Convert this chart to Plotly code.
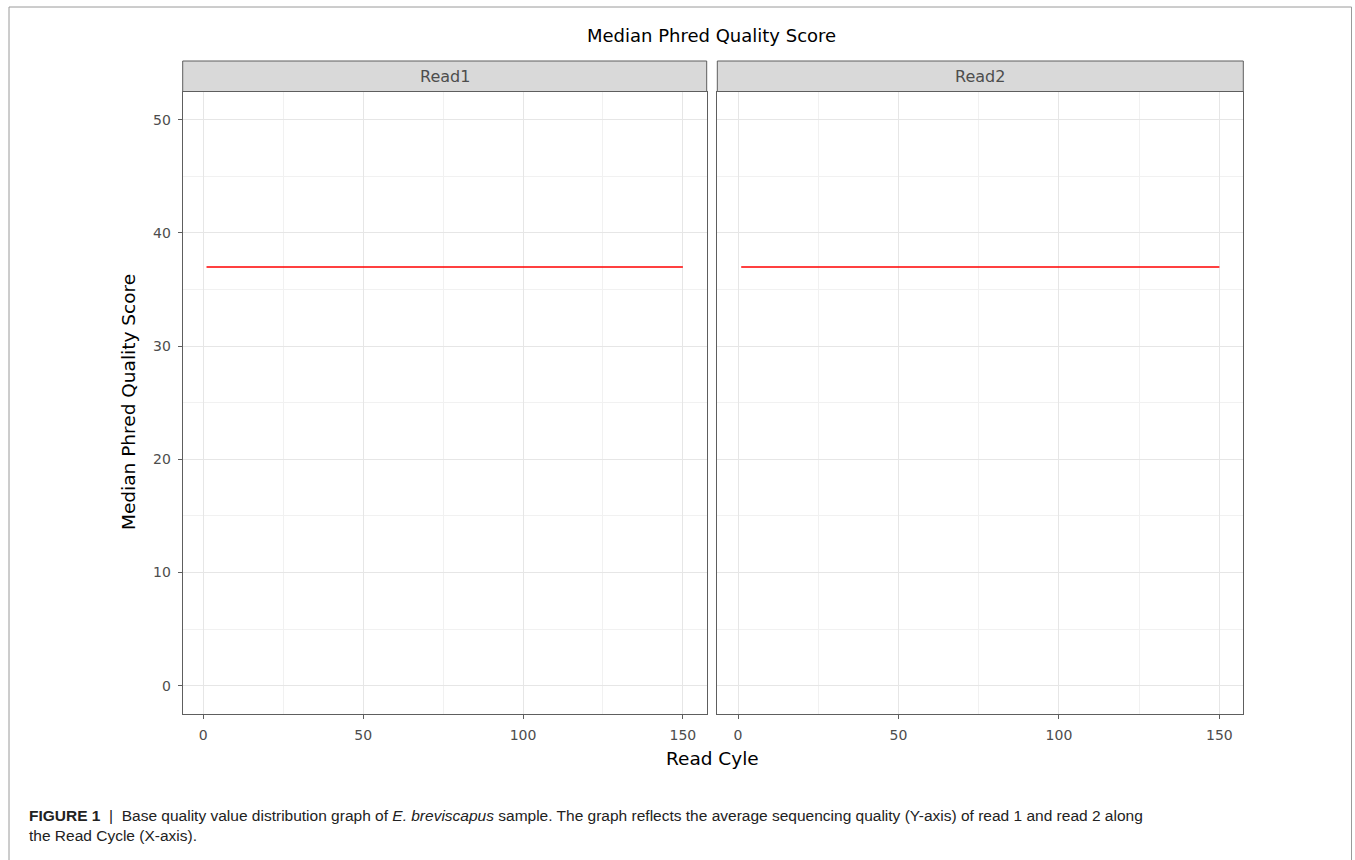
import plotly.graph_objects as go

# ---- data ----
panels = ["Read1", "Read2"]
read_cycle = [1, 150]
median_quality_read1 = [37, 37]
median_quality_read2 = [37, 37]
x_ticks = [0, 50, 100, 150]
y_ticks = [0, 10, 20, 30, 40, 50]

W, H = 1355, 860
def px(x): return x / W
def py(y): return 1 - y / H

BORDER = "#5E5E5E"
GRID = "#E6E6E6"
GRID_MINOR = "#F1F1F1"
TICKC = "#4D4D4D"
FONT = "DejaVu Sans"

panel_x = [(182.7, 706.7), (717.3, 1243.3)]
panel_top, panel_bot = 91.5, 714.0
strip_top = 61.0

fig = go.Figure()
series = [median_quality_read1, median_quality_read2]
for i, vals in enumerate(series):
    sfx = "" if i == 0 else str(i + 1)
    fig.add_trace(go.Scatter(x=read_cycle, y=vals, mode="lines",
                             line=dict(color="#FF0000", width=1.6),
                             xaxis="x" + sfx, yaxis="y" + sfx, showlegend=False))

common_x = dict(range=[-6.45, 157.45], tickvals=x_ticks, ticks="outside", ticklen=4,
                tickcolor=BORDER, showline=True, mirror=True, linecolor=BORDER, linewidth=1,
                showgrid=True, gridcolor=GRID, gridwidth=1, zeroline=False,
                ticklabelstandoff=4,
                tickfont=dict(family=FONT, size=14, color=TICKC),
                minor=dict(tickvals=[25, 75, 125], showgrid=True, gridcolor=GRID_MINOR, ticklen=0))
common_y = dict(range=[-2.5, 52.5], tickvals=y_ticks, showline=True, mirror=True,
                linecolor=BORDER, linewidth=1, showgrid=True, gridcolor=GRID, gridwidth=1,
                zeroline=False,
                minor=dict(tickvals=[5, 15, 25, 35, 45], showgrid=True, gridcolor=GRID_MINOR, ticklen=0))

fig.update_layout(
    width=W, height=H, margin=dict(l=0, r=0, t=0, b=0),
    paper_bgcolor="white", plot_bgcolor="white",
    xaxis=dict(common_x, domain=[px(panel_x[0][0]), px(panel_x[0][1])], anchor="y"),
    xaxis2=dict(common_x, domain=[px(panel_x[1][0]), px(panel_x[1][1])], anchor="y2"),
    yaxis=dict(common_y, domain=[py(panel_bot), py(panel_top)], anchor="x",
               ticks="outside", ticklen=4, tickcolor=BORDER, ticklabelstandoff=4,
               tickfont=dict(family=FONT, size=14, color=TICKC)),
    yaxis2=dict(common_y, domain=[py(panel_bot), py(panel_top)], anchor="x2",
                showticklabels=False, ticks=""),
)

shapes = []
annotations = []
for i, (x0, x1) in enumerate(panel_x):
    shapes.append(dict(type="rect", xref="paper", yref="paper", x0=px(x0), x1=px(x1),
                       y0=py(panel_top), y1=py(strip_top), fillcolor="#D9D9D9",
                       line=dict(color=BORDER, width=1), layer="above"))
    annotations.append(dict(text=panels[i], xref="paper", yref="paper",
                            x=px((x0 + x1) / 2), y=py((strip_top + panel_top) / 2),
                            showarrow=False, xanchor="center", yanchor="middle",
                            font=dict(family=FONT, size=16, color="#4D4D4D")))
# outer figure frame
shapes.append(dict(type="rect", xref="paper", yref="paper", x0=px(9), x1=px(1351.5),
                   y0=py(870), y1=py(7), line=dict(color="#9A9A9A", width=1)))

annotations += [
    dict(text="Median Phred Quality Score", xref="paper", yref="paper", x=px(711), y=py(36),
         showarrow=False, xanchor="center", yanchor="middle",
         font=dict(family=FONT, size=18, color="#000000")),
    dict(text="Median Phred Quality Score", xref="paper", yref="paper", x=px(128), y=py(402),
         showarrow=False, xanchor="center", yanchor="middle", textangle=-90,
         font=dict(family=FONT, size=18.5, color="#000000")),
    dict(text="Read Cyle", xref="paper", yref="paper", x=px(712), y=py(758),
         showarrow=False, xanchor="center", yanchor="middle",
         font=dict(family=FONT, size=18.5, color="#000000")),
    dict(text="<b>FIGURE 1</b>  |  Base quality value distribution graph of <i>E. breviscapus</i> sample. "
              "The graph reflects the average sequencing quality (Y-axis) of read 1 and read 2 along"
              "<br>the Read Cycle (X-axis).",
         xref="paper", yref="paper", x=px(27), y=py(805), showarrow=False,
         xanchor="left", yanchor="top", align="left",
         font=dict(family="Liberation Sans", size=15.5, color="#222222")),
]
fig.update_layout(shapes=shapes, annotations=annotations)

fig.write_html("out.html", config={"displayModeBar": False},
               post_script="document.body.style.margin='0';")
